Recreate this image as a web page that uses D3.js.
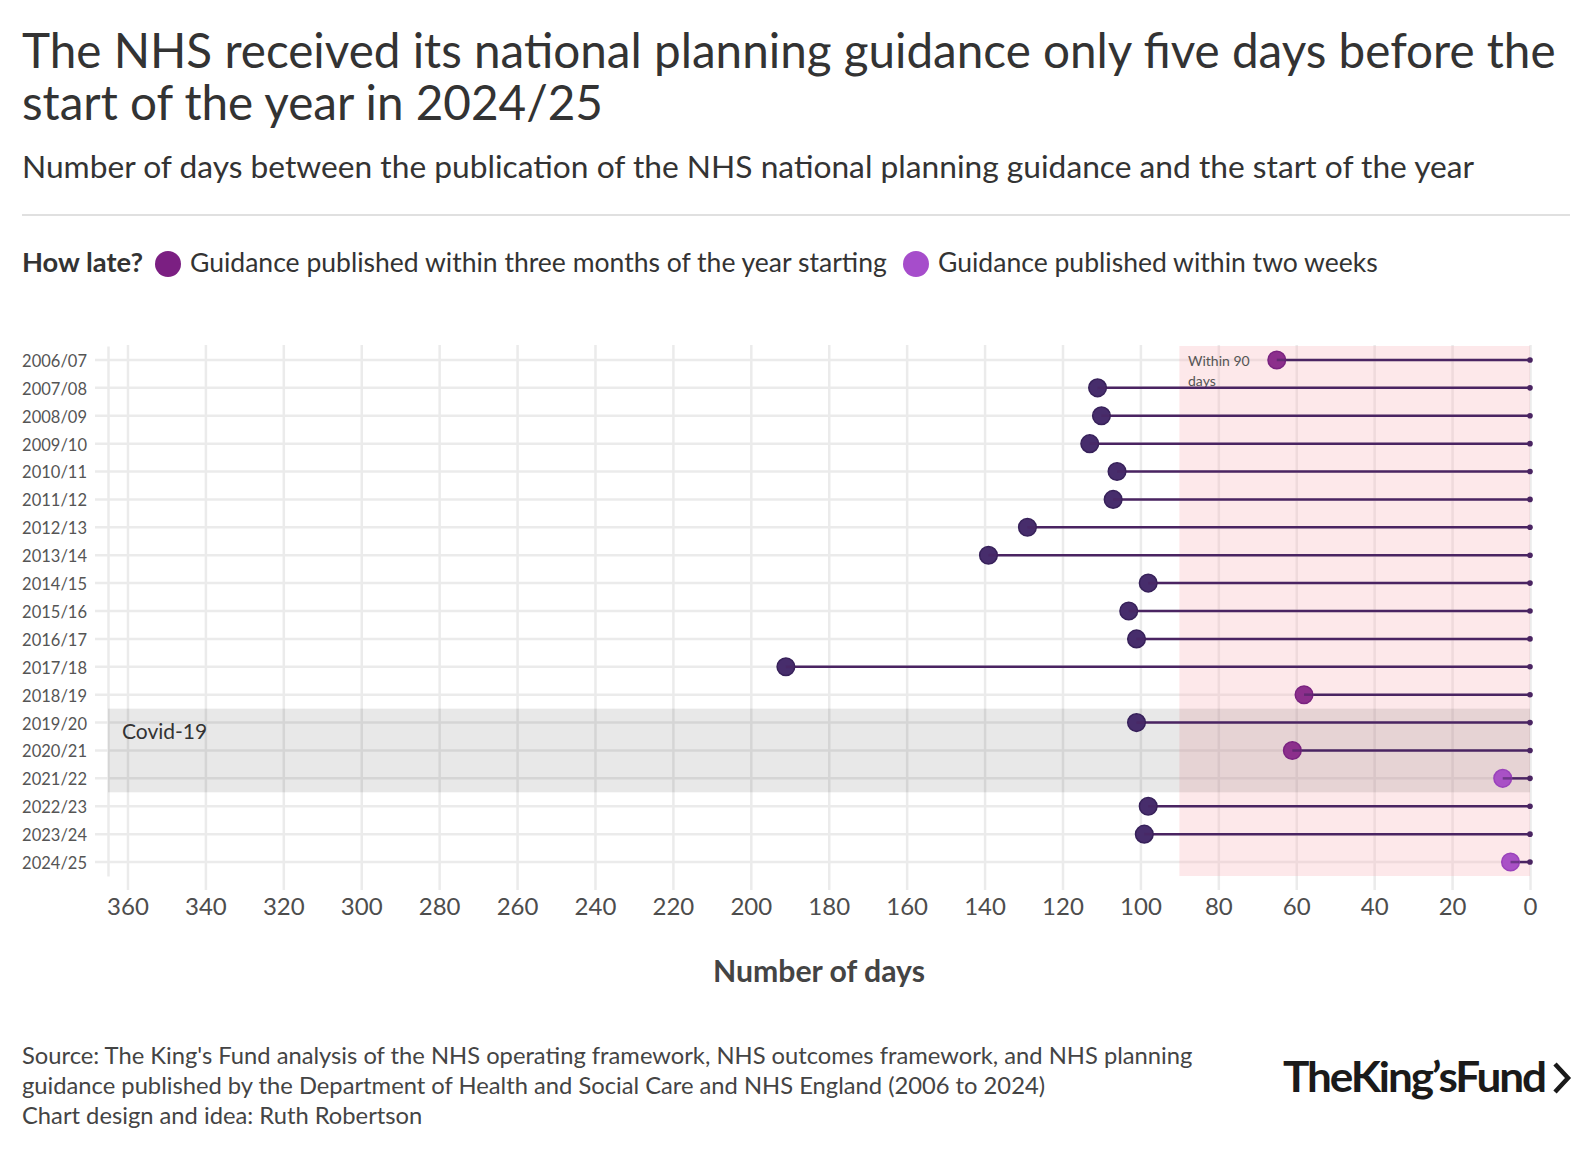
<!DOCTYPE html>
<html>
<head>
<meta charset="utf-8">
<script src="https://cdn.jsdelivr.net/npm/d3@7"></script>
<style>
  body { margin: 0; background: #fff; }
  svg { display: block; font-family: Lato, "Noto Sans", sans-serif; }
</style>
</head>
<body>
<svg id="chart" width="1590" height="1150"></svg>
<script>
// financial years and days between guidance publication and start of the year
const years = ["2006/07", "2007/08", "2008/09", "2009/10", "2010/11", "2011/12", "2012/13",
  "2013/14", "2014/15", "2015/16", "2016/17", "2017/18", "2018/19", "2019/20", "2020/21",
  "2021/22", "2022/23", "2023/24", "2024/25"];
const days = [65, 111, 110, 113, 106, 107, 129, 139, 98, 103, 101, 191, 58, 101, 61, 7, 98, 99, 5];
// how late: "over" = more than three months, "three" = within three months, "two" = within two weeks
const lateness = ["three", "over", "over", "over", "over", "over", "over", "over", "over", "over",
  "over", "over", "three", "over", "three", "two", "over", "over", "two"];
const xTicks = [0, 20, 40, 60, 80, 100, 120, 140, 160, 180, 200, 220, 240, 260, 280, 300, 320, 340, 360];
const legendItems = ["Guidance published within three months of the year starting", "Guidance published within two weeks"];
const legendKeys = ["three", "two"];
const covidYears = ["2019/20", "2021/22"];
const sourceLines = [
  "Source: The King's Fund analysis of the NHS operating framework, NHS outcomes framework, and NHS planning",
  "guidance published by the Department of Health and Social Care and NHS England (2006 to 2024)",
  "Chart design and idea: Ruth Robertson"
];

const fillCol = {over: "#472d6c", three: "#8c2f8c", two: "#a951c6"};
const strokeCol = {over: "#37215a", three: "#7a2380", two: "#9a43bb"};
const legendCol = {three: "#7b1f82", two: "#a64dcb"};
const stemCol = "#4a2462";
const gridCol = "#ebebeb";

const svg = d3.select("#chart");

// fit a text element's font-size so it spans a given width
function fitWidth(sel, target) {
  const w = sel.node().getComputedTextLength();
  const fs = parseFloat(sel.attr("font-size"));
  sel.attr("font-size", fs * target / w);
  return fs * target / w;
}

// title
const t1 = svg.append("text").attr("x", 22).attr("y", 68).attr("font-size", 46).attr("fill", "#333")
  .text("The NHS received its national planning guidance only five days before the");
const titleSize = fitWidth(t1, 1534);
svg.append("text").attr("x", 22).attr("y", 120).attr("font-size", titleSize).attr("fill", "#333")
  .text("start of the year in 2024/25");

const sub = svg.append("text").attr("x", 22).attr("y", 178).attr("font-size", 28).attr("fill", "#333")
  .text("Number of days between the publication of the NHS national planning guidance and the start of the year");
fitWidth(sub, 1453);

svg.append("line").attr("x1", 22).attr("x2", 1570).attr("y1", 215).attr("y2", 215)
  .attr("stroke", "#d6d6d6").attr("stroke-width", 1.5);

// legend
const lg = svg.append("g");
const how = lg.append("text").attr("x", 22).attr("y", 272).attr("font-size", 24).attr("font-weight", 700)
  .attr("fill", "#333").text("How late?");
fitWidth(how, 121);
const legX = [[168, 190, 697], [916, 938, 440]];
legendItems.forEach((txt, i) => {
  lg.append("circle").attr("cx", legX[i][0]).attr("cy", 264).attr("r", 13).attr("fill", legendCol[legendKeys[i]]);
  const t = lg.append("text").attr("x", legX[i][1]).attr("y", 272).attr("font-size", 24).attr("fill", "#333").text(txt);
  fitWidth(t, legX[i][2]);
});

// scales
const x = d3.scaleLinear().domain([365, 0]).range([108, 1530]);
const y = d3.scaleBand().domain(years).range([346, 876]);
const yc = d => y(d) + y.bandwidth() / 2;

// x grid + axis
const xAxis = svg.append("g").attr("transform", "translate(0,890)")
  .call(d3.axisBottom(x).tickValues(xTicks).tickSize(-(890 - 345)).tickPadding(8).tickSizeOuter(0));
xAxis.select(".domain").remove();
xAxis.selectAll(".tick line").attr("stroke", gridCol).attr("stroke-width", 2.5);
xAxis.selectAll(".tick text").attr("font-size", 24).attr("fill", "#4d4d4d").attr("font-family", "Lato, sans-serif");

// y grid + axis
const yAxis = svg.append("g").attr("transform", "translate(108,0)")
  .call(d3.axisLeft(y).tickSize(-(1530 - 108)).tickPadding(21).tickSizeOuter(0));
yAxis.select(".domain").attr("stroke", gridCol).attr("stroke-width", 2.5);
yAxis.selectAll(".tick line").attr("x1", -13).attr("stroke", gridCol).attr("stroke-width", 2.5);
yAxis.selectAll(".tick text").attr("font-size", 16.5).attr("dy", "0.42em").attr("fill", "#555")
  .attr("font-family", "Lato, sans-serif");

// within 90 days region
svg.append("rect").attr("x", x(90)).attr("y", 346).attr("width", x(0) - x(90)).attr("height", 876 - 346)
  .attr("fill", "rgb(250,180,186)").attr("fill-opacity", 0.3);

// covid band
svg.append("rect").attr("x", x(365)).attr("y", y(covidYears[0]))
  .attr("width", x(0) - x(365)).attr("height", y(covidYears[1]) + y.bandwidth() - y(covidYears[0]))
  .attr("fill", "#000").attr("fill-opacity", 0.09);
svg.append("text").attr("x", 122).attr("y", 739).attr("font-size", 21).attr("fill", "#333").text("Covid-19");

const ann = svg.append("text").attr("x", 1188).attr("y", 366).attr("font-size", 14).attr("fill", "#555");
ann.append("tspan").attr("x", 1188).text("Within 90");
ann.append("tspan").attr("x", 1188).attr("dy", 20).text("days");

// lollipops
const rows = years.map((yr, i) => ({year: yr, days: days[i], cat: lateness[i]}));
const g = svg.append("g");
g.selectAll("line.stem").data(rows).join("line").attr("class", "stem")
  .attr("x1", d => x(d.days)).attr("x2", x(0))
  .attr("y1", d => yc(d.year)).attr("y2", d => yc(d.year))
  .attr("stroke", stemCol).attr("stroke-width", 2.5);
g.selectAll("circle.end").data(rows).join("circle").attr("class", "end")
  .attr("cx", x(0)).attr("cy", d => yc(d.year)).attr("r", 2.8).attr("fill", stemCol);
g.selectAll("circle.dot").data(rows).join("circle").attr("class", "dot")
  .attr("cx", d => x(d.days)).attr("cy", d => yc(d.year)).attr("r", 8.8)
  .attr("fill", d => fillCol[d.cat]).attr("stroke", d => strokeCol[d.cat]).attr("stroke-width", 1.5);
g.selectAll("line.tick").data(rows).join("line").attr("class", "tick")
  .attr("x1", d => x(d.days)).attr("x2", d => x(d.days) + 9)
  .attr("y1", d => yc(d.year)).attr("y2", d => yc(d.year))
  .attr("stroke", stemCol).attr("stroke-width", 2.5).attr("stroke-opacity", 0.6);

// axis title
const xt = svg.append("text").attr("x", 819).attr("y", 982).attr("text-anchor", "middle")
  .attr("font-size", 26).attr("font-weight", 700).attr("fill", "#444").text("Number of days");
fitWidth(xt, 212);

// source
const s0 = svg.append("text").attr("x", 22).attr("y", 1064).attr("font-size", 22).attr("fill", "#444").text(sourceLines[0]);
const srcSize = fitWidth(s0, 1171);
sourceLines.slice(1).forEach((l, i) => {
  svg.append("text").attr("x", 22).attr("y", 1094 + i * 30).attr("font-size", srcSize).attr("fill", "#444").text(l);
});

// logo
svg.append("text").attr("x", 1283).attr("y", 1092).attr("font-size", 42).attr("font-weight", 700)
  .attr("fill", "#1a1a1a").attr("letter-spacing", -2).attr("textLength", 262).attr("lengthAdjust", "spacingAndGlyphs")
  .text("TheKing\u2019sFund");
svg.append("path").attr("d", "M1555,1064 L1568,1078 L1555,1092")
  .attr("fill", "none").attr("stroke", "#1a1a1a").attr("stroke-width", 4.5);
</script>
</body>
</html>
